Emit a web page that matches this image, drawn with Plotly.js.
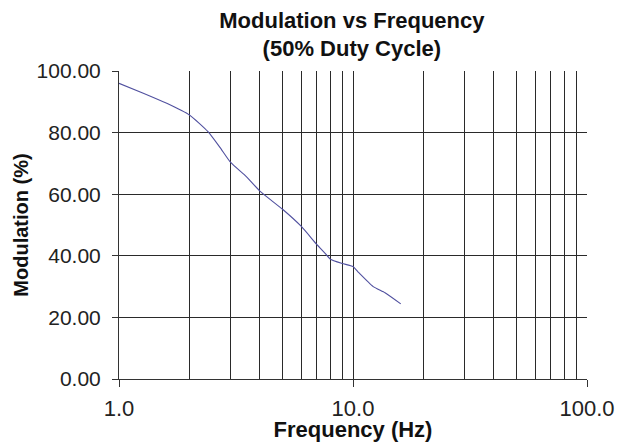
<!DOCTYPE html>
<html>
<head>
<meta charset="utf-8">
<script src="https://cdn.plot.ly/plotly-3.0.1.min.js"></script>
<style>
  html, body { margin: 0; padding: 0; background: #ffffff; }
  #chart { width: 634px; height: 442px; }
</style>
</head>
<body>
<div id="chart"></div>
<script>
// Frequency (Hz) and modulation (%)
const frequencyHz = [1, 1.27, 1.6, 2, 2.4, 2.7, 3, 3.5, 4, 5, 6, 7, 7.6, 8, 9, 10, 10.5, 12.2, 13.7, 16];
const modulationPct = [96.0, 92.8, 89.5, 85.7, 80.3, 75.2, 70.3, 65.7, 61.0, 55.1, 49.6, 43.7, 40.8, 38.9, 37.5, 36.5, 34.8, 30.0, 28.0, 24.4];

const xMajorTicks = [1, 10, 100];
const xMajorLabels = ['1.0', '10.0', '100.0'];
const xMinorTicks = [2, 3, 4, 5, 6, 7, 8, 9, 20, 30, 40, 50, 60, 70, 80, 90];
const yTicks = [0, 20, 40, 60, 80, 100];
const yLabels = ['0.00', '20.00', '40.00', '60.00', '80.00', '100.00'];

const fontFamily = 'Liberation Sans, Arial, sans-serif';

const trace = {
  x: frequencyHz,
  y: modulationPct,
  type: 'scatter',
  mode: 'lines',
  line: { color: '#50509f', width: 1.1, shape: 'spline', smoothing: 0.5 },
  hoverinfo: 'skip'
};

const layout = {
  width: 634,
  height: 442,
  margin: { l: 119, r: 47, t: 71, b: 63 },
  paper_bgcolor: '#ffffff',
  plot_bgcolor: '#ffffff',
  showlegend: false,
  font: { family: fontFamily, color: '#222222' },
  title: {
    text: '<b>Modulation vs Frequency<br>(50% Duty Cycle)</b>',
    font: { family: fontFamily, size: 22, color: '#111111' },
    xref: 'container', x: 0.555, xanchor: 'center',
    yref: 'container', y: 0.937, yanchor: 'top'
  },
  xaxis: {
    type: 'log',
    range: [0, 2],
    tickmode: 'array',
    tickvals: xMajorTicks,
    ticktext: xMajorLabels,
    ticks: 'outside',
    ticklen: 7,
    tickcolor: '#333333',
    tickwidth: 1,
    ticklabelstandoff: 3,
    tickfont: { family: fontFamily, size: 22, color: '#222222' },
    showgrid: true,
    gridcolor: '#2a2a2a',
    gridwidth: 1,
    minor: { tickmode: 'array', tickvals: xMinorTicks, showgrid: true, gridcolor: '#2a2a2a', gridwidth: 1, ticks: '' },
    showline: true,
    linecolor: '#333333',
    linewidth: 1,
    zeroline: false,
    fixedrange: true,
    title: { text: '<b>Frequency (Hz)</b>', font: { family: fontFamily, size: 22, color: '#111111' }, standoff: 3 }
  },
  yaxis: {
    range: [0, 100],
    tickmode: 'array',
    tickvals: yTicks,
    ticktext: yLabels,
    ticks: 'outside',
    ticklen: 6,
    tickcolor: '#333333',
    tickwidth: 1,
    ticklabelstandoff: 7,
    tickfont: { family: fontFamily, size: 21, color: '#222222' },
    showgrid: true,
    gridcolor: '#2a2a2a',
    gridwidth: 1,
    showline: true,
    linecolor: '#333333',
    linewidth: 1,
    zeroline: false,
    fixedrange: true,
    title: { text: '<b>Modulation (%)</b>', font: { family: fontFamily, size: 20, color: '#111111' }, standoff: 2 }
  }
};

Plotly.newPlot('chart', [trace], layout, { displayModeBar: false, staticPlot: true });
</script>
</body>
</html>
